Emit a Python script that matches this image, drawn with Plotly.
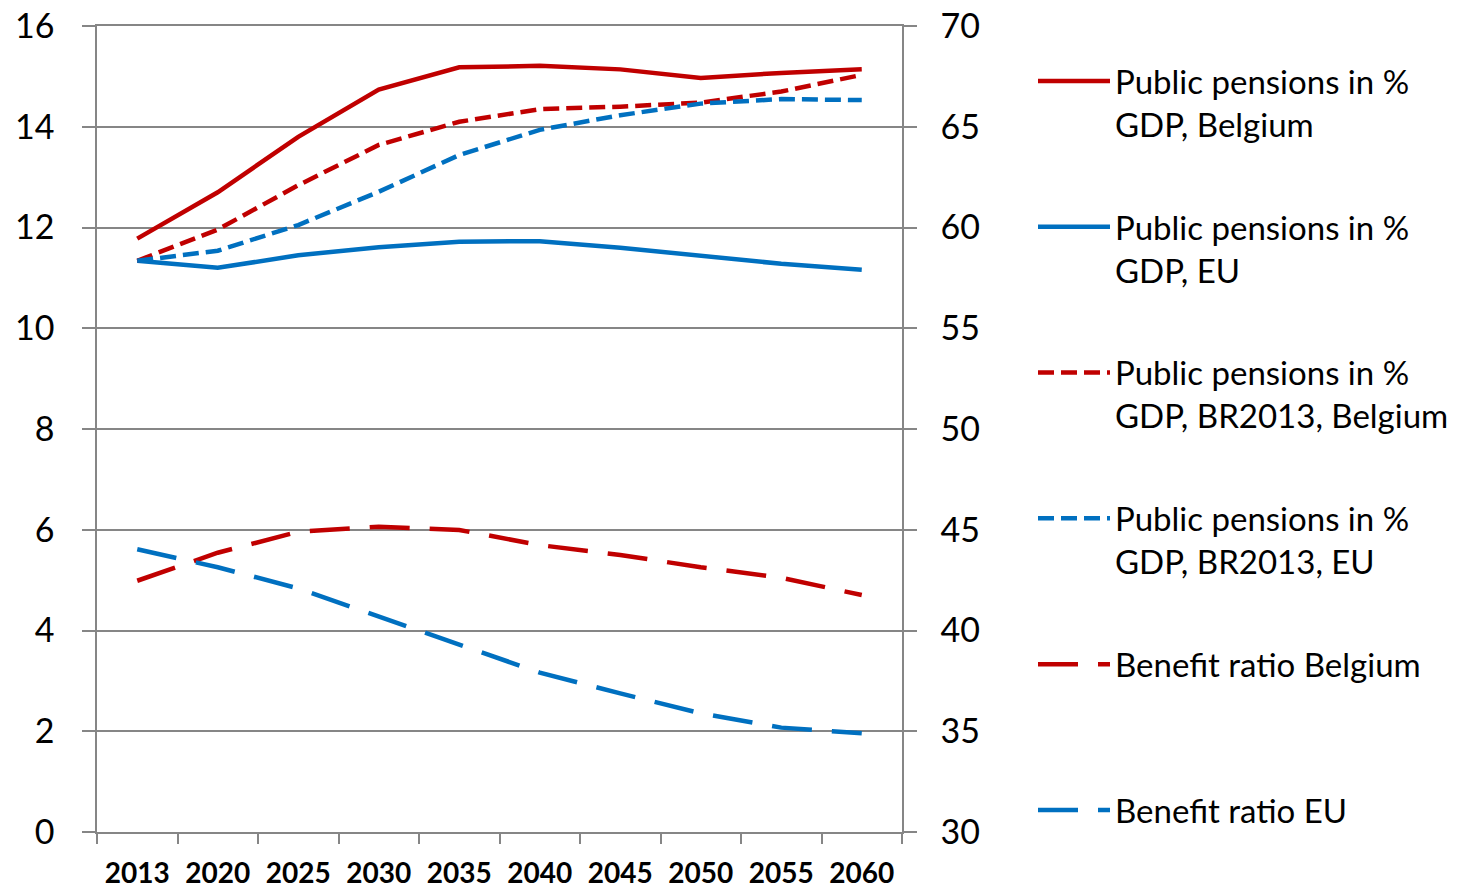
import plotly.graph_objects as go

# categories and series
years = ["2013", "2020", "2025", "2030", "2035", "2040", "2045", "2050", "2055", "2060"]

pensions_be = [11.78, 12.70, 13.80, 14.74, 15.18, 15.21, 15.14, 14.97, 15.07, 15.14]
pensions_eu = [11.34, 11.20, 11.45, 11.61, 11.72, 11.73, 11.60, 11.45, 11.28, 11.16]
pensions_br_be = [11.34, 11.96, 12.84, 13.64, 14.10, 14.35, 14.40, 14.48, 14.70, 15.03]
pensions_br_eu = [11.34, 11.54, 12.05, 12.71, 13.44, 13.94, 14.23, 14.46, 14.55, 14.53]
benefit_be = [42.47, 43.86, 44.90, 45.15, 44.99, 44.24, 43.75, 43.14, 42.62, 41.76]
benefit_eu = [44.03, 43.14, 42.09, 40.69, 39.28, 37.91, 36.88, 35.89, 35.18, 34.90]

left_ticks = [0, 2, 4, 6, 8, 10, 12, 14, 16]
right_ticks = [30, 35, 40, 45, 50, 55, 60, 65, 70]

RED = "#C00000"
BLUE = "#0070C0"
GRID = "#868686"
FONT = "Lato"

SHORT = "16px,7px"
LONG = "40px,20px"

fig = go.Figure()

series = [
    ("Public pensions in %<br>GDP, Belgium", pensions_be, RED, "solid", "y"),
    ("Public pensions in %<br>GDP, EU", pensions_eu, BLUE, "solid", "y"),
    ("Public pensions in %<br>GDP, BR2013, Belgium", pensions_br_be, RED, SHORT, "y"),
    ("Public pensions in %<br>GDP, BR2013, EU", pensions_br_eu, BLUE, SHORT, "y"),
    ("Benefit ratio Belgium<br> ", benefit_be, RED, LONG, "y2"),
    ("Benefit ratio EU", benefit_eu, BLUE, LONG, "y2"),
]

for i, (name, vals, color, dash, yax) in enumerate(series):
    fig.add_trace(go.Scatter(
        x=years, y=vals, name=name, mode="lines", yaxis=yax,
        legendgroup=f"g{i}",
        line=dict(color=color, width=4.5, dash=dash),
    ))

axis_common = dict(
    showline=True, linecolor=GRID, linewidth=1.5,
    ticks="outside", ticklen=13, tickcolor=GRID, tickwidth=1.5,
    tickfont=dict(family=FONT, size=34, color="black"),
    zeroline=False, automargin=False, ticklabeloverflow="allow",
)

fig.update_layout(
    width=1460, height=887,
    paper_bgcolor="white", plot_bgcolor="white",
    margin=dict(l=89, r=566, t=18, b=63),
    font=dict(family=FONT, color="black"),
    xaxis=dict(
        type="category", range=[-0.5, 9.5], showgrid=False,
        showline=True, mirror=True, linecolor=GRID, linewidth=1.5,
        ticks="outside", ticklen=10, tickcolor=GRID, tickwidth=1.5,
        tickson="boundaries", automargin=False, ticklabeloverflow="allow",
        tickfont=dict(family=FONT, size=28, color="black", weight="bold"),
        ticklabelstandoff=16,
    ),
    yaxis=dict(range=[0, 16.001], tickvals=left_ticks, showgrid=True,
               gridcolor=GRID, gridwidth=1.5, ticklabelstandoff=21, **axis_common),
    yaxis2=dict(range=[30, 70.0025], tickvals=right_ticks, overlaying="y", side="right",
                showgrid=False, ticklabelstandoff=17, **axis_common),
    showlegend=True,
    legend=dict(
        xref="container", yref="paper",
        x=1025 / 1460, y=(824 - 45) / 806, xanchor="left", yanchor="top",
        font=dict(family=FONT, size=33, color="black"),
        valign="top", itemwidth=72, tracegroupgap=57,
        bgcolor="rgba(0,0,0,0)",
    ),
)

fig.write_html("out.html")
